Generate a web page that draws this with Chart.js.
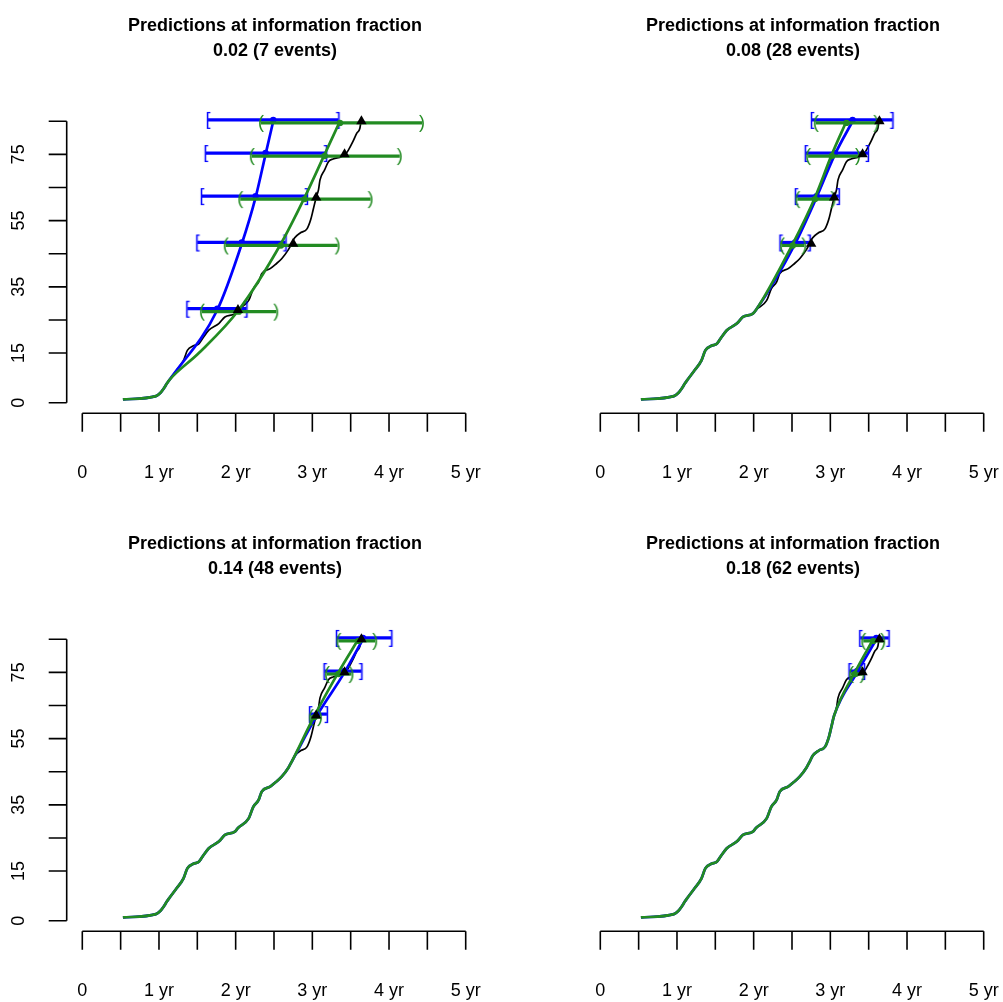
<!DOCTYPE html>
<html>
<head>
<meta charset="utf-8">
<script src="https://cdn.jsdelivr.net/npm/chart.js@4.4.1/dist/chart.umd.min.js"></script>
<style>
  html,body{margin:0;padding:0;background:#fff;}
  #wrap{position:relative;width:1003px;height:1002px;overflow:hidden;}
  #wrap canvas{position:absolute;}
</style>
</head>
<body>
<div id="wrap">
  <canvas id="p0" width="485" height="484" style="left:0px;top:0px"></canvas>
  <canvas id="p1" width="485" height="484" style="left:518px;top:0px"></canvas>
  <canvas id="p2" width="485" height="484" style="left:0px;top:518px"></canvas>
  <canvas id="p3" width="485" height="484" style="left:518px;top:518px"></canvas>
</div>
<script>
// observed cumulative events (years since start, count)
const obsTime  = [0.53, 0.96, 1.02, 1.06, 1.10, 1.14, 1.23, 1.32, 1.37, 1.45, 1.52, 1.58, 1.65, 1.78, 1.86, 1.99, 2.03,
                  2.17, 2.23, 2.30, 2.34, 2.45, 2.52, 2.60, 2.69, 2.73, 2.77, 2.85, 2.93, 2.98, 3.01, 3.05,
                  3.08, 3.10, 3.16, 3.21, 3.27, 3.38, 3.43, 3.47, 3.53, 3.58, 3.62, 3.64];
const obsCount = [1, 2, 3, 4.2, 5.7, 7, 9.8, 12.8, 15.8, 17.2, 17.8, 19.8, 21.9, 23.9, 25.9, 26.9, 28,
                  30.9, 34.4, 36.5, 39.0, 40.5, 41.8, 43.5, 46.3, 48, 49.8, 51.4, 52.5, 55.4, 58.2, 62,
                  64.3, 67.3, 70.3, 72.8, 73.6, 74.3, 75, 76.3, 78.9, 81.4, 82.9, 86];

// target event counts and when they actually happened
const targets    = [28, 48, 62, 75, 85];
const actualTime = [2.03, 2.75, 3.05, 3.42, 3.64];

// one entry per panel
const infoFraction = ['0.02', '0.08', '0.14', '0.18'];
const eventsSoFar  = [7, 28, 48, 62];

// blue predictions (median and [ ] interval), for the targets not yet reached
const blueMid = [[1.76, 2.08, 2.26, 2.39, 2.49], [2.54, 2.82, 3.06, 3.29], [3.06, 3.42, 3.66], [3.35, 3.60]];
const blueLo  = [[1.37, 1.50, 1.56, 1.61, 1.64], [2.35, 2.55, 2.68, 2.76], [2.97, 3.16, 3.32], [3.25, 3.39]];
const blueHi  = [[2.14, 2.65, 2.93, 3.18, 3.34], [2.73, 3.11, 3.49, 3.81], [3.19, 3.64, 4.03], [3.44, 3.76]];

// green predictions (median and ( ) interval)
const greenMid = [[2.04, 2.59, 2.90, 3.16, 3.36], [2.51, 2.80, 3.02, 3.21], [3.03, 3.34, 3.60], [3.32, 3.56]];
const greenLo  = [[1.56, 1.87, 2.06, 2.21, 2.33], [2.37, 2.57, 2.71, 2.81], [2.98, 3.19, 3.34], [3.27, 3.43]];
const greenHi  = [[2.53, 3.33, 3.76, 4.14, 4.43], [2.66, 3.04, 3.36, 3.60], [3.10, 3.51, 3.82], [3.42, 3.69]];

// extra point (bend between 7 and 28 events)
const greenBendT = [1.52, null, null, null];
const greenBendN = [15, null, null, null];

const xTicks = [0, 0.5, 1, 1.5, 2, 2.5, 3, 3.5, 4, 4.5, 5];
const xLabels = {0: '0', 1: '1 yr', 2: '2 yr', 3: '3 yr', 4: '4 yr', 5: '5 yr'};
const yTicks = [0, 15, 25, 35, 45, 55, 65, 75, 85];
const yLabels = [0, 15, 35, 55, 75];

const BLUE = '#0000ff';
const GREEN = '#228b22';
const FONT = '"Liberation Sans", Arial, Helvetica, sans-serif';

function glyph(ch, color){
  const c = document.createElement('canvas');
  c.width = 12; c.height = 24;
  const g = c.getContext('2d');
  g.font = '18px ' + FONT;
  g.fillStyle = color;
  g.textAlign = 'center';
  g.textBaseline = 'alphabetic';
  g.fillText(ch, 6, 12 + 4.8);
  return c;
}
const lBr = glyph('[', BLUE), rBr = glyph(']', BLUE);
const lPa = glyph('(', GREEN), rPa = glyph(')', GREEN);

const axesPlugin = {
  id: 'rAxes',
  afterDraw(chart, args, opts){
    const ctx = chart.ctx, xs = chart.scales.x, ys = chart.scales.y;
    ctx.save();
    ctx.fillStyle = '#000';
    ctx.strokeStyle = '#000';
    ctx.lineWidth = 1.6;

    // title
    ctx.font = 'bold 18px ' + FONT;
    ctx.textAlign = 'center';
    ctx.textBaseline = 'alphabetic';
    const cx = (xs.getPixelForValue(0) + xs.getPixelForValue(5)) / 2 + 1;
    ctx.fillText('Predictions at information fraction', cx, 31);
    ctx.fillText(opts.sub, cx, 56);

    // x axis
    const ax = 413.3;
    ctx.beginPath();
    ctx.moveTo(xs.getPixelForValue(0), ax);
    ctx.lineTo(xs.getPixelForValue(5), ax);
    xTicks.forEach(t => {
      const px = xs.getPixelForValue(t);
      ctx.moveTo(px, ax); ctx.lineTo(px, ax + 18.4);
    });
    ctx.stroke();
    ctx.font = '18px ' + FONT;
    Object.keys(xLabels).forEach(k => {
      ctx.fillText(xLabels[k], xs.getPixelForValue(+k), 477.5);
    });

    // y axis (left column only)
    if (opts.showY){
      const ay = 66.7;
      ctx.beginPath();
      ctx.moveTo(ay, ys.getPixelForValue(0));
      ctx.lineTo(ay, ys.getPixelForValue(85));
      yTicks.forEach(t => {
        const py = ys.getPixelForValue(t);
        ctx.moveTo(ay, py); ctx.lineTo(ay - 18, py);
      });
      ctx.stroke();
      yLabels.forEach(t => {
        ctx.save();
        ctx.translate(24, ys.getPixelForValue(t));
        ctx.rotate(-Math.PI / 2);
        ctx.fillText(String(t), 0, 0);
        ctx.restore();
      });
    }
    ctx.restore();
  }
};

function makePanel(i){
  const cur = eventsSoFar[i];
  const obs = obsTime.map((t, k) => ({x: t, y: obsCount[k]}));
  const seen = obs.filter(p => p.y <= cur);
  const todo = targets.filter(n => n > cur);

  const blueCurve = seen.concat(todo.map((n, k) => ({x: blueMid[i][k], y: n})));
  let greenTail = todo.map((n, k) => ({x: greenMid[i][k], y: n}));
  if (greenBendT[i] !== null) greenTail = [{x: greenBendT[i], y: greenBendN[i]}].concat(greenTail);
  const greenCurve = seen.concat(greenTail);

  const line = (data, color, w, order) => ({
    data, showLine: true, borderColor: color, borderWidth: w, pointRadius: 0,
    cubicInterpolationMode: 'monotone', order, clip: false
  });

  const ds = [];
  ds.push(line(obs, '#000', 1.7, 9));
  ds.push(line(blueCurve, BLUE, 2.7, 8));
  todo.forEach((n, k) => {
    ds.push({
      data: [{x: blueLo[i][k], y: n + 0.4}, {x: blueHi[i][k], y: n + 0.4}],
      showLine: true, borderColor: BLUE, borderWidth: 3.2, tension: 0,
      pointStyle: [lBr, rBr], pointRadius: 5, order: 7, clip: false
    });
  });
  ds.push({
    data: todo.map((n, k) => ({x: blueMid[i][k], y: n + 0.4})),
    pointStyle: 'circle', pointRadius: 3.2, backgroundColor: BLUE, borderColor: BLUE, borderWidth: 0, order: 6, clip: false
  });
  ds.push(line(greenCurve, GREEN, 2.7, 5));
  todo.forEach((n, k) => {
    ds.push({
      data: [{x: greenLo[i][k], y: n - 0.5}, {x: greenHi[i][k], y: n - 0.5}],
      showLine: true, borderColor: GREEN, borderWidth: 3.2, tension: 0,
      pointStyle: [lPa, rPa], pointRadius: 5, order: 4, clip: false
    });
  });
  ds.push({
    data: todo.map((n, k) => ({x: greenMid[i][k], y: n - 0.5})),
    pointStyle: 'circle', pointRadius: 3.2, backgroundColor: GREEN, borderColor: GREEN, borderWidth: 0, order: 3, clip: false
  });
  ds.push({
    data: todo.map(n => ({x: actualTime[targets.indexOf(n)], y: n})),
    pointStyle: 'triangle', pointRadius: 6, backgroundColor: '#000', borderColor: '#000', borderWidth: 0, order: 1, clip: false
  });

  const W = 485, H = 484;
  new Chart(document.getElementById('p' + i), {
    type: 'scatter',
    data: {datasets: ds},
    plugins: [axesPlugin],
    options: {
      responsive: false,
      animation: false,
      events: [],
      layout: {padding: {left: 82.3, right: W - 465.7, top: 110, bottom: H - 414}},
      scales: {
        x: {type: 'linear', min: 0, max: 5, display: false},
        y: {type: 'linear', min: -3.4, max: 88.4, display: false}
      },
      plugins: {
        legend: {display: false},
        tooltip: {enabled: false},
        rAxes: {sub: infoFraction[i] + ' (' + cur + ' events)', showY: i % 2 === 0}
      }
    }
  });
}

[0, 1, 2, 3].forEach(makePanel);
</script>
</body>
</html>
